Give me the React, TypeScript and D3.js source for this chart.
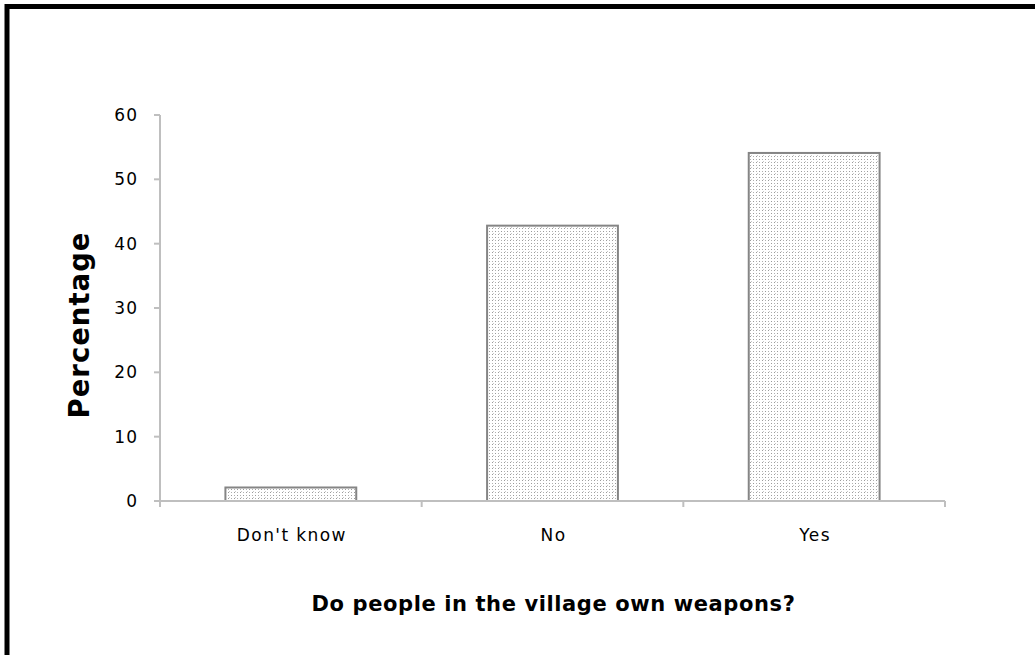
import React from 'react';
import * as d3 from 'd3';

const categories = ["Don't know", 'No', 'Yes'];
const percentages = [2.1, 42.8, 54.1];
const yTicks = [0, 10, 20, 30, 40, 50, 60];

const width = 1035;
const height = 655;
const marginLeft = 160;
const marginRight = 90;
const marginTop = 115;
const marginBottom = 154;

const App: React.FC = () => {
  const x = d3.scaleBand()
    .domain(categories)
    .range([marginLeft, width - marginRight])
    .paddingInner(0.5)
    .paddingOuter(0.25);

  const y = d3.scaleLinear()
    .domain([0, 60])
    .range([height - marginBottom, marginTop]);

  const step = x.step();
  const axisY = y(0);
  const font = '"DejaVu Sans", Verdana, sans-serif';

  // category boundaries for the x-axis tick marks
  const boundaries = d3.range(categories.length + 1).map(i => marginLeft + i * step);

  return (
    <svg width={width} height={height} style={{ position: 'absolute', left: 0, top: 0, background: '#fff' }}>
      <defs>
        <pattern id="dots" width={6} height={6} patternUnits="userSpaceOnUse">
          <rect width={6} height={6} fill="#fff" />
          <rect x={0} y={0} width={1} height={1} fill="#9a9a9a" />
          <rect x={3} y={0} width={1} height={1} fill="#b0b0b0" />
          <rect x={0} y={3} width={1} height={1} fill="#b0b0b0" />
          <rect x={3} y={3} width={1} height={1} fill="#9a9a9a" />
          <rect x={1} y={5} width={1} height={1} fill="#c8c8c8" />
        </pattern>
      </defs>

      {/* outer frame */}
      <rect x={7} y={6.5} width={width + 20} height={height + 20} fill="none" stroke="#000" strokeWidth={5} />

      {/* bars */}
      {categories.map((c, i) => (
        <rect
          key={c}
          x={x(c)!}
          y={y(percentages[i])}
          width={x.bandwidth()}
          height={axisY - y(percentages[i])}
          fill="url(#dots)"
          stroke="#858585"
          strokeWidth={2}
        />
      ))}

      {/* y axis */}
      <line x1={marginLeft} x2={marginLeft} y1={marginTop} y2={axisY + 6} stroke="#bfbfbf" strokeWidth={2} />
      {yTicks.map(t => (
        <g key={t} transform={`translate(0,${y(t)})`}>
          <line x1={marginLeft - 6} x2={marginLeft} stroke="#bfbfbf" strokeWidth={2} />
          <text x={138} dy="0.36em" textAnchor="end" fontFamily={font} fontSize={17} letterSpacing={1} fill="#000">{t}</text>
        </g>
      ))}

      {/* x axis */}
      <line x1={marginLeft} x2={width - marginRight} y1={axisY} y2={axisY} stroke="#bfbfbf" strokeWidth={2} />
      {boundaries.map((b, i) => (
        <line key={i} x1={b} x2={b} y1={axisY} y2={axisY + 6} stroke="#bfbfbf" strokeWidth={2} />
      ))}
      {categories.map(c => (
        <text
          key={c}
          x={x(c)! + x.bandwidth() / 2 + 1}
          y={541}
          textAnchor="middle"
          fontFamily={font}
          fontSize={17}
          letterSpacing={1.4}
          fill="#000"
        >
          {c}
        </text>
      ))}

      {/* axis titles */}
      <text
        transform={`translate(89,${(marginTop + axisY) / 2 + 17}) rotate(-90)`}
        textAnchor="middle"
        fontFamily={font}
        fontWeight="bold"
        fontSize={27.5}
        letterSpacing={1}
        fill="#000"
      >
        Percentage
      </text>
      <text
        x={(marginLeft + width - marginRight) / 2 + 1}
        y={611}
        textAnchor="middle"
        fontFamily={font}
        fontWeight="bold"
        fontSize={21}
        letterSpacing={0.6}
        fill="#000"
      >
        Do people in the village own weapons?
      </text>
    </svg>
  );
};

export default App;
